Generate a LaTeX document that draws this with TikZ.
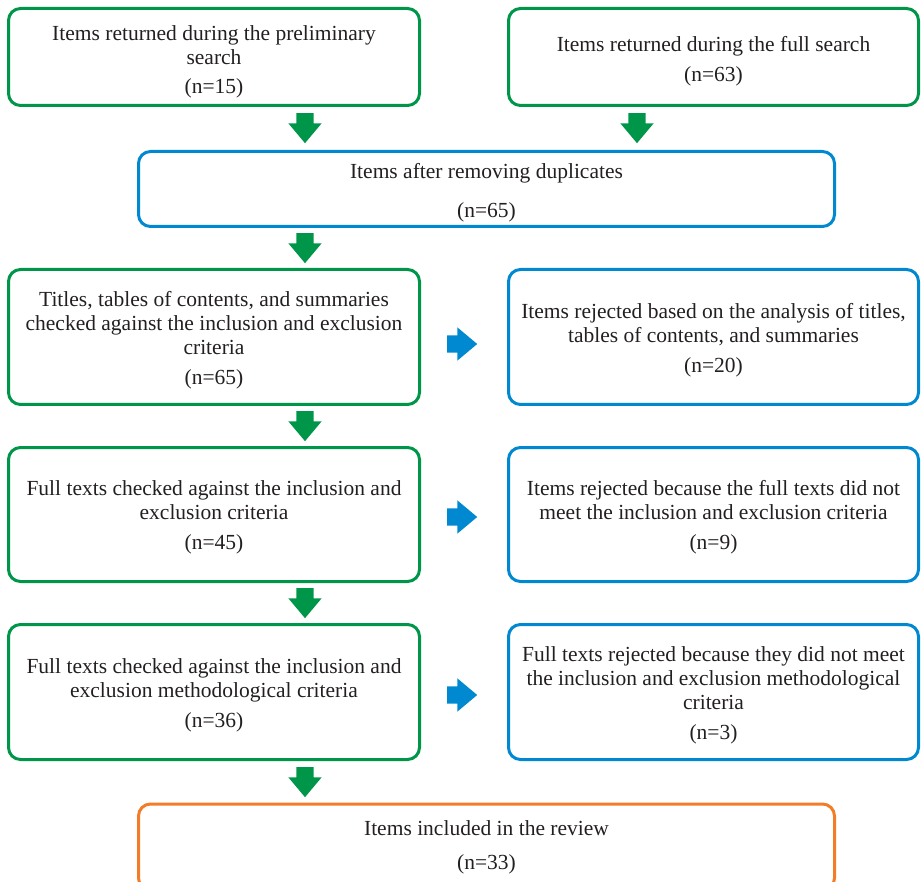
\documentclass[tikz,border=0pt]{standalone}
\usepackage{fontspec}
\setmainfont{Liberation Serif}
\usetikzlibrary{shapes.arrows}
\definecolor{cgreen}{HTML}{00964A}
\definecolor{cblue}{HTML}{0088D0}
\definecolor{corange}{HTML}{F27C28}
\definecolor{ctext}{HTML}{231F20}
\tikzset{
  box/.style={draw, rectangle, rounded corners=12pt, line width=3pt, outer sep=0pt,
    inner sep=0pt},
  gbox/.style={box, draw=cgreen},
  bbox/.style={box, draw=cblue},
  obox/.style={box, draw=corange},
  txt/.style={inner sep=0pt, align=center, text=ctext,
    font=\fontsize{21.5}{24}\selectfont},
  barrow/.style={single arrow, draw=none, inner sep=8.5pt, outer sep=0pt,
    minimum width=33pt, minimum height=30pt, single arrow head extend=8pt,
    single arrow tip angle=80, single arrow head indent=0pt},
  garrow/.style={barrow, fill=cgreen, shape border rotate=270},
  rarrow/.style={barrow, fill=cblue, shape border rotate=0},
}
\begin{document}
\begin{tikzpicture}[x=1pt, y=-1pt]
\useasboundingbox (0,0) rectangle (921,882);
\clip (0,0) rectangle (921,882);
\node[gbox, minimum width=411pt, minimum height=97pt] (b1) at (214,57) {};
\node[gbox, minimum width=410pt, minimum height=97pt] (b2) at (713.5,57) {};
\node[bbox, minimum width=696pt, minimum height=75pt] (b3) at (486.5,189) {};
\node[gbox, minimum width=411pt, minimum height=135pt] (b4) at (214,337) {};
\node[bbox, minimum width=410pt, minimum height=135pt] (b5) at (713.5,337) {};
\node[gbox, minimum width=411pt, minimum height=134pt] (b6) at (214,514.5) {};
\node[bbox, minimum width=410pt, minimum height=134pt] (b7) at (713.5,514.5) {};
\node[gbox, minimum width=411pt, minimum height=135pt] (b8) at (214,692) {};
\node[bbox, minimum width=410pt, minimum height=135pt] (b9) at (713.5,692) {};
\node[obox, minimum width=696pt, minimum height=86pt] (b10) at (486.5,847) {};
% texts
\node[txt] (t1) at ([yshift=-5pt]b1.center)
  {Items returned during the preliminary\\ search\\[5pt] (n=15)};
\node[txt] (t2) at ([yshift=-4pt]b2.center)
  {Items returned during the full search\\[6pt] (n=63)};
\node[txt] (t3) at ([yshift=-4pt]b3.center)
  {Items after removing duplicates\\[15pt] (n=65)};
\node[txt] (t4) at ([yshift=-3pt]b4.center)
  {Titles, tables of contents, and summaries\\ checked against the inclusion and exclusion\\ criteria\\[6pt] (n=65)};
\node[txt] (t5) at ([yshift=-3pt]b5.center)
  {Items rejected based on the analysis of titles,\\ tables of contents, and summaries\\[6pt] (n=20)};
\node[txt] (t6) at ([yshift=-3pt]b6.center)
  {Full texts checked against the inclusion and\\ exclusion criteria\\[6pt] (n=45)};
\node[txt] (t7) at ([yshift=-3pt]b7.center)
  {Items rejected because the full texts did not\\ meet the inclusion and exclusion criteria\\[6pt] (n=9)};
\node[txt] (t8) at ([yshift=-3pt]b8.center)
  {Full texts checked against the inclusion and\\ exclusion methodological criteria\\[6pt] (n=36)};
\node[txt] (t9) at ([yshift=-3pt]b9.center)
  {Full texts rejected because they did not meet\\ the inclusion and exclusion methodological\\ criteria\\[6pt] (n=3)};
\node[txt] (t10) at (b10.center)
  {Items included in the review\\[10pt] (n=33)};
% block arrows
\node[garrow] (a1) at (305,123) {};
\node[garrow] (a2) at (637,123) {};
\node[garrow] (a3) at (305,243) {};
\node[garrow] (a4) at (305,421) {};
\node[garrow] (a5) at (305,598) {};
\node[garrow] (a6) at (305,777) {};
\node[rarrow] (r1) at (457,344) {};
\node[rarrow] (r2) at (457,517) {};
\node[rarrow] (r3) at (457,695) {};
\end{tikzpicture}
\end{document}
